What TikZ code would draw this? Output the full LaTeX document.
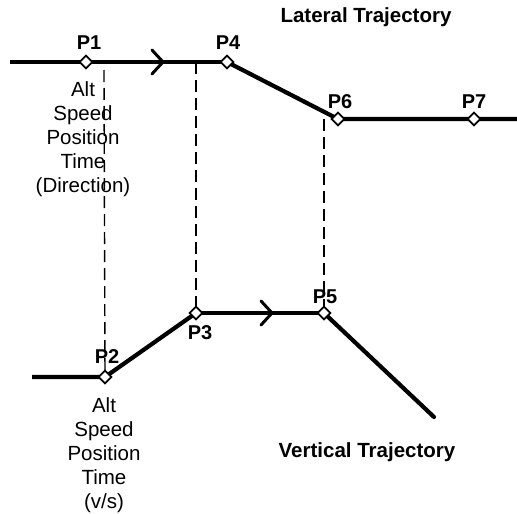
\documentclass[tikz,border=0pt]{standalone}
\usepackage{fontspec}
\setmainfont{Liberation Sans}
\usetikzlibrary{shapes.geometric,decorations.markings}
\begin{document}
\begin{tikzpicture}[x=1pt,y=-1pt,
  wpt/.style={diamond,draw,fill=white,line width=1.8pt,minimum size=13.5pt,inner sep=0pt},
  traj/.style={line width=4.2pt},
  guide/.style={line width=1.4pt,dash pattern=on 12pt off 6pt},
  plab/.style={font=\bfseries\fontsize{20}{24}\selectfont,inner sep=0pt,anchor=base},
  title/.style={font=\bfseries\fontsize{20.5}{24}\selectfont,inner sep=0pt,anchor=base},
  info/.style={font=\fontsize{20.5}{24}\selectfont,align=center,inner sep=0pt,anchor=base},
  chev/.style={postaction={decorate},decoration={markings,mark=at position #1 with {\draw[line width=3pt,line cap=round] (-11pt,-12pt)--(0,0)--(-11pt,12pt);}}}
]
\useasboundingbox (0,0) rectangle (517,514);
% dashed guides (behind)
\coordinate (g1) at (104,70);
\coordinate (g2) at (196,62);
\coordinate (g3) at (324,119);
% points
\coordinate (L0) at (10,62);
\coordinate (L9) at (517,119);
\coordinate (V0) at (32,377);
\coordinate (V9) at (434,417);
\path (86,62) coordinate (c1) (105,377) coordinate (c2) (196,313) coordinate (c3)
      (227,62) coordinate (c4) (324,313) coordinate (c5) (338,119) coordinate (c6) (474,119) coordinate (c7);
\draw[guide] (g1) -- (c2);
\draw[guide] (g2) -- (c3);
\draw[guide] (g3) -- (c5);
% trajectories
\draw[traj] (L0) -- (c1);
\draw[traj,chev=0.546] (c1) -- (c4);
\draw[traj] (c4) -- (c6) -- (c7) -- (L9);
\draw[traj] (V0) -- (c2) -- (c3);
\draw[traj,chev=0.594] (c3) -- (c5);
\draw[traj,line cap=round] (c5) -- (V9);
% waypoint markers
\node[wpt] (P1) at (c1) {};
\node[wpt] (P2) at (c2) {};
\node[wpt] (P3) at (c3) {};
\node[wpt] (P4) at (c4) {};
\node[wpt] (P5) at (c5) {};
\node[wpt] (P6) at (c6) {};
\node[wpt] (P7) at (c7) {};
% labels
\node[plab] (l1) at (89,49) {P1};
\node[plab] (l4) at (228,49) {P4};
\node[plab] (l6) at (340,108) {P6};
\node[plab] (l7) at (474,108) {P7};
\node[plab] (l2) at (107,363) {P2};
\node[plab] (l3) at (200,339) {P3};
\node[plab] (l5) at (325,303) {P5};
\node[title] (t1) at (366,23) {Lateral Trajectory};
\node[title] (t2) at (367,457) {Vertical Trajectory};
\node[info] (i1) at (83,96) {Alt};
\node[info] (i1b) at (83,120) {Speed};
\node[info] (i1c) at (83,144) {Position};
\node[info] (i1d) at (83,168) {Time};
\node[info] (i1e) at (83,192) {(Direction)};
\node[info] (i2) at (104,412) {Alt};
\node[info] (i2b) at (104,436) {Speed};
\node[info] (i2c) at (104,460) {Position};
\node[info] (i2d) at (104,484) {Time};
\node[info] (i2e) at (104,508) {(v/s)};
\end{tikzpicture}
\end{document}
